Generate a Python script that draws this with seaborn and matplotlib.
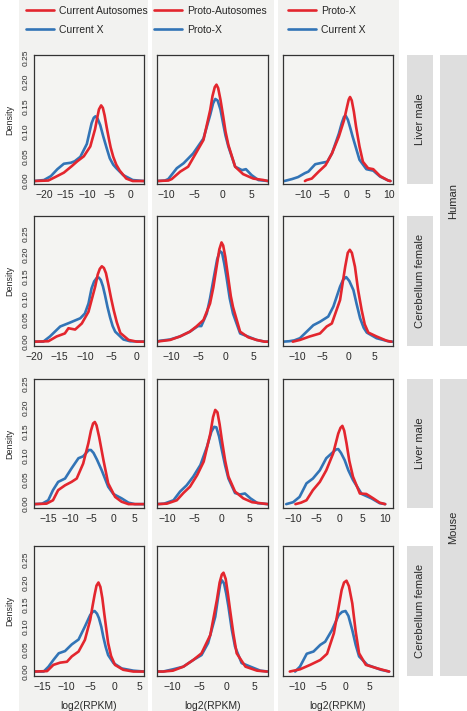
import numpy as np
import pandas as pd
import matplotlib
matplotlib.use('Agg')
import matplotlib.pyplot as plt
import seaborn as sns
from matplotlib.patches import Rectangle
from matplotlib.ticker import MultipleLocator

# legend names per column: red series first, blue series second
col_series = [['Current Autosomes', 'Current X'],
              ['Proto-Autosomes', 'Proto-X'],
              ['Proto-X', 'Current X']]
row_labels = ['Liver male', 'Cerebellum female', 'Liver male', 'Cerebellum female']
species = ['Human', 'Mouse']

# density curves as (log2(RPKM), density)
# human liver male
hl1_red = [(-22.3, 0), (-19.0, 0.001), (-17.4, 0.008), (-15.4, 0.017), (-13.6, 0.030), (-12.3, 0.040),
           (-10.8, 0.050), (-9.3, 0.070), (-8.2, 0.105), (-7.7, 0.128), (-7.3, 0.145), (-6.8, 0.153),
           (-6.4, 0.148), (-6.0, 0.133), (-5.5, 0.108), (-5.0, 0.085), (-4.6, 0.068), (-4.0, 0.049),
           (-3.3, 0.033), (-2.5, 0.021), (-1.0, 0.005), (0.5, 0.0), (3.1, 0.0)]
hl1_blue = [(-22.3, 0), (-20.0, 0.002), (-18.4, 0.010), (-16.9, 0.024), (-15.4, 0.035), (-13.8, 0.037),
            (-12.9, 0.040), (-11.6, 0.049), (-10.1, 0.075), (-9.5, 0.098), (-9.0, 0.117), (-8.5, 0.128),
            (-8.1, 0.131), (-7.6, 0.126), (-7.0, 0.113), (-6.3, 0.090), (-5.5, 0.066), (-4.8, 0.046),
            (-4.0, 0.033), (-3.3, 0.026), (-1.7, 0.012), (0.5, 0.002), (3.1, 0.0)]
hl2_red = [(-11.6, 0), (-9.6, 0.001), (-9.0, 0.004), (-7.5, 0.019), (-6.1, 0.029), (-4.6, 0.059), (-3.4, 0.083),
           (-2.2, 0.144), (-1.8, 0.172), (-1.4, 0.190), (-1.1, 0.195), (-0.8, 0.188), (-0.4, 0.165),
           (0.1, 0.130), (0.5, 0.100), (1.0, 0.073), (2.2, 0.029), (3.6, 0.014), (5.4, 0.005), (7.2, 0.002),
           (8.0, 0.0)]
hl2_blue = [(-11.6, 0), (-10.2, 0.001), (-9.6, 0.004), (-8.1, 0.026), (-6.9, 0.036), (-5.2, 0.056), (-3.4, 0.086),
            (-2.2, 0.134), (-1.7, 0.157), (-1.3, 0.166), (-0.9, 0.163), (-0.4, 0.145), (0.1, 0.115),
            (0.5, 0.092), (1.0, 0.070), (2.2, 0.029), (3.4, 0.022), (4.1, 0.024), (5.1, 0.012), (6.3, 0.002),
            (8.0, 0.0)]
hl3_red = [(-9.6, 0), (-9.2, 0.002), (-8.0, 0.005), (-6.4, 0.019), (-4.8, 0.032), (-3.3, 0.056), (-1.7, 0.090),
           (-0.5, 0.123), (0.2, 0.150), (0.6, 0.165), (0.9, 0.170), (1.3, 0.163), (1.8, 0.140), (2.3, 0.110),
           (3.1, 0.070), (3.9, 0.039), (5.1, 0.026), (6.3, 0.024), (7.9, 0.010), (9.8, 0.001), (10.3, 0.0)]
hl3_blue = [(-14.4, 0), (-12.6, 0.004), (-11.2, 0.008), (-9.6, 0.016), (-8.8, 0.019), (-7.2, 0.034), (-5.6, 0.037),
            (-4.4, 0.039), (-3.3, 0.056), (-1.7, 0.096), (-1.0, 0.118), (-0.5, 0.130), (-0.1, 0.132),
            (0.4, 0.124), (1.0, 0.106), (1.5, 0.090), (3.1, 0.043), (4.7, 0.024), (6.3, 0.021), (7.9, 0.009),
            (9.8, 0.001), (10.3, 0.0)]
# human cerebellum female
hc1_red = [(-20.0, 0), (-17.2, 0.001), (-15.6, 0.012), (-14.0, 0.019), (-13.3, 0.031), (-12.0, 0.028),
           (-10.7, 0.042), (-9.4, 0.069), (-8.1, 0.127), (-7.6, 0.155), (-7.2, 0.168), (-6.8, 0.174),
           (-6.4, 0.170), (-6.0, 0.158), (-5.5, 0.130), (-5.0, 0.100), (-4.5, 0.073), (-3.9, 0.045),
           (-3.2, 0.020), (-1.6, 0.004), (0.0, 0.0), (1.4, 0.0)]
hc1_blue = [(-20.0, 0), (-18.2, 0.0), (-16.9, 0.012), (-14.9, 0.035), (-13.0, 0.044), (-11.0, 0.054),
            (-10.1, 0.065), (-9.4, 0.088), (-8.8, 0.123), (-8.3, 0.139), (-7.8, 0.147), (-7.4, 0.148),
            (-7.0, 0.142), (-6.6, 0.128), (-6.2, 0.108), (-5.7, 0.080), (-5.2, 0.056), (-4.7, 0.036),
            (-4.2, 0.023), (-2.6, 0.005), (-1.3, 0.001), (1.4, 0.0)]
hc2_red = [(-12.6, 0), (-12.1, 0.001), (-10.2, 0.004), (-8.4, 0.012), (-6.6, 0.023), (-5.4, 0.035), (-4.1, 0.050),
           (-2.9, 0.088), (-2.3, 0.125), (-1.7, 0.173), (-1.2, 0.213), (-0.8, 0.229), (-0.5, 0.222),
           (-0.1, 0.195), (0.4, 0.150), (0.9, 0.105), (1.3, 0.080), (2.6, 0.023), (4.1, 0.010), (5.6, 0.004),
           (7.1, 0.0), (7.7, 0.0)]
hc2_blue = [(-12.6, 0), (-12.1, 0.002), (-10.2, 0.005), (-8.4, 0.012), (-6.6, 0.023), (-5.1, 0.036), (-4.5, 0.036),
            (-3.5, 0.065), (-2.9, 0.100), (-2.3, 0.142), (-1.6, 0.190), (-1.1, 0.209), (-0.7, 0.205),
            (-0.3, 0.180), (0.1, 0.150), (0.7, 0.100), (1.3, 0.065), (2.6, 0.019), (3.8, 0.013), (5.6, 0.004),
            (7.1, 0.0), (7.7, 0.0)]
hc3_red = [(-10.8, 0), (-9.4, 0.004), (-7.5, 0.012), (-5.5, 0.019), (-4.2, 0.035), (-3.2, 0.042), (-1.6, 0.096),
           (-1.1, 0.135), (-0.6, 0.173), (-0.1, 0.205), (0.3, 0.212), (0.7, 0.205), (1.3, 0.173), (1.9, 0.120),
           (2.6, 0.073), (3.2, 0.040), (3.9, 0.021), (5.5, 0.012), (7.5, 0.002), (8.4, 0.0)]
hc3_blue = [(-12.7, 0), (-11.5, 0.001), (-10.5, 0.003), (-9.4, 0.008), (-8.1, 0.023), (-6.8, 0.038), (-5.5, 0.046),
            (-3.9, 0.058), (-2.9, 0.081), (-1.6, 0.127), (-1.0, 0.143), (-0.4, 0.149), (0.2, 0.140),
            (1.0, 0.119), (1.6, 0.088), (2.3, 0.054), (3.0, 0.032), (3.6, 0.021), (5.5, 0.008), (8.1, 0.0),
            (8.7, 0.0)]
# mouse liver male
ml1_red = [(-18.4, 0), (-15.5, 0.001), (-14.0, 0.008), (-12.8, 0.029), (-11.2, 0.039), (-9.7, 0.046),
           (-8.5, 0.053), (-7.0, 0.084), (-5.8, 0.126), (-5.2, 0.152), (-4.7, 0.167), (-4.3, 0.170),
           (-3.9, 0.163), (-3.3, 0.139), (-2.8, 0.115), (-2.3, 0.091), (-1.2, 0.043), (0.4, 0.015),
           (1.9, 0.005), (3.5, 0.0), (7.1, 0.0)]
ml1_blue = [(-18.4, 0), (-16.5, 0.001), (-15.1, 0.008), (-14.0, 0.029), (-12.8, 0.046), (-11.2, 0.053),
            (-9.7, 0.074), (-8.1, 0.095), (-7.0, 0.099), (-6.3, 0.106), (-5.7, 0.112), (-5.2, 0.112),
            (-4.6, 0.106), (-3.8, 0.092), (-2.7, 0.070), (-1.2, 0.036), (0.0, 0.021), (1.9, 0.012),
            (3.5, 0.003), (5.0, 0.0), (7.1, 0.0)]
ml2_red = [(-11.8, 0), (-10.0, 0.001), (-8.2, 0.008), (-7.0, 0.023), (-5.8, 0.036), (-4.5, 0.060), (-3.3, 0.088),
           (-2.1, 0.146), (-1.6, 0.180), (-1.2, 0.195), (-0.8, 0.190), (-0.4, 0.165), (0.0, 0.133),
           (0.6, 0.090), (1.2, 0.057), (2.4, 0.026), (3.9, 0.012), (5.5, 0.004), (8.4, 0.0)]
ml2_blue = [(-11.8, 0), (-10.5, 0.001), (-8.8, 0.008), (-7.6, 0.026), (-6.4, 0.039), (-5.2, 0.057), (-3.9, 0.081),
            (-2.7, 0.119), (-1.9, 0.150), (-1.4, 0.160), (-1.0, 0.159), (-0.5, 0.140), (0.0, 0.112),
            (0.6, 0.080), (1.2, 0.053), (2.4, 0.023), (3.3, 0.020), (4.2, 0.022), (5.2, 0.012), (6.5, 0.002),
            (8.4, 0.0)]
ml3_red = [(-9.5, 0), (-8.3, 0.003), (-7.1, 0.008), (-5.7, 0.029), (-4.2, 0.046), (-2.8, 0.070), (-1.3, 0.105),
           (-0.2, 0.146), (0.3, 0.158), (0.7, 0.162), (1.1, 0.152), (1.6, 0.126), (2.2, 0.090), (3.0, 0.057),
           (4.5, 0.022), (5.9, 0.021), (7.4, 0.012), (8.8, 0.003), (10.0, 0.0)]
ml3_blue = [(-11.5, 0), (-10.0, 0.004), (-8.6, 0.015), (-7.1, 0.043), (-5.7, 0.053), (-4.2, 0.070), (-2.8, 0.095),
            (-1.3, 0.108), (-0.7, 0.113), (-0.2, 0.114), (0.4, 0.106), (1.2, 0.091), (2.0, 0.070), (3.0, 0.050),
            (4.9, 0.021), (7.0, 0.012), (8.8, 0.002), (10.0, 0.0)]
# mouse cerebellum female
mc1_red = [(-16.7, 0), (-14.0, 0.001), (-12.7, 0.015), (-11.3, 0.020), (-9.9, 0.022), (-8.9, 0.034),
           (-7.5, 0.045), (-6.2, 0.071), (-5.1, 0.116), (-4.6, 0.148), (-4.2, 0.172), (-3.8, 0.193),
           (-3.4, 0.200), (-3.0, 0.190), (-2.6, 0.165), (-2.2, 0.130), (-1.8, 0.097), (-1.4, 0.064),
           (-0.8, 0.035), (0.0, 0.015), (1.7, 0.004), (3.8, 0.0), (6.0, 0.0)]
mc1_blue = [(-16.7, 0), (-14.7, 0.0), (-13.7, 0.011), (-12.7, 0.026), (-11.6, 0.041), (-10.3, 0.046),
            (-8.9, 0.061), (-7.5, 0.072), (-6.2, 0.101), (-5.1, 0.127), (-4.6, 0.134), (-4.2, 0.136),
            (-3.7, 0.130), (-3.3, 0.120), (-2.8, 0.100), (-2.4, 0.078), (-1.9, 0.055), (-1.4, 0.037),
            (-0.3, 0.019), (1.4, 0.007), (3.8, 0.002), (6.0, 0.0)]
mc2_red = [(-12.7, 0), (-11.6, 0.0), (-9.8, 0.002), (-7.9, 0.011), (-6.1, 0.026), (-4.6, 0.041), (-3.0, 0.082),
           (-1.8, 0.161), (-1.3, 0.200), (-0.9, 0.218), (-0.6, 0.222), (-0.2, 0.208), (0.2, 0.175),
           (0.6, 0.138), (1.2, 0.085), (1.8, 0.041), (3.4, 0.011), (5.5, 0.002), (7.3, 0.0)]
mc2_blue = [(-12.7, 0), (-11.6, 0.0), (-9.8, 0.005), (-7.9, 0.011), (-6.1, 0.026), (-4.6, 0.037), (-3.4, 0.064),
            (-2.1, 0.123), (-1.6, 0.165), (-1.2, 0.196), (-0.9, 0.205), (-0.5, 0.198), (-0.1, 0.175),
            (0.3, 0.146), (0.9, 0.095), (1.5, 0.056), (2.7, 0.019), (4.3, 0.011), (6.1, 0.002), (7.5, 0.0)]
mc3_red = [(-11.5, 0), (-9.4, 0.005), (-7.3, 0.015), (-5.2, 0.026), (-3.8, 0.040), (-2.4, 0.086), (-1.4, 0.146),
           (-0.8, 0.183), (-0.3, 0.200), (0.2, 0.204), (0.7, 0.192), (1.4, 0.153), (2.1, 0.090), (2.8, 0.041),
           (4.2, 0.015), (6.6, 0.007), (9.0, 0.0)]
mc3_blue = [(-10.4, 0), (-9.4, 0.011), (-8.0, 0.040), (-6.6, 0.045), (-5.2, 0.060), (-4.2, 0.067), (-2.8, 0.093),
            (-1.4, 0.127), (-0.7, 0.134), (0.0, 0.136), (0.6, 0.125), (1.4, 0.093), (2.1, 0.060), (2.8, 0.034),
            (4.5, 0.015), (7.3, 0.004), (9.0, 0.0)]

panels = [[(hl1_red, hl1_blue), (hl2_red, hl2_blue), (hl3_red, hl3_blue)],
          [(hc1_red, hc1_blue), (hc2_red, hc2_blue), (hc3_red, hc3_blue)],
          [(ml1_red, ml1_blue), (ml2_red, ml2_blue), (ml3_red, ml3_blue)],
          [(mc1_red, mc1_blue), (mc2_red, mc2_blue), (mc3_red, mc3_blue)]]

# axis ranges
xlims = [[(-22.3, 3.1), (-11.6, 8.0), (-14.7, 10.9)],
         [(-20.0, 1.4), (-12.6, 7.7), (-12.7, 8.7)],
         [(-18.4, 7.1), (-11.8, 8.4), (-12.2, 11.7)],
         [(-16.7, 6.0), (-12.7, 7.5), (-12.9, 9.8)]]
ylims = [(-0.006, 0.255), (-0.01, 0.29), (-0.008, 0.259), (-0.01, 0.282)]
yticks = [0.0, 0.05, 0.10, 0.15, 0.20, 0.25]

RED = '#e3262e'
BLUE = '#3274b6'
BG = '#f2f2f0'
STRIP = '#dedede'
INK = '#2a2a2a'

sns.set_style('white')
plt.rcParams['font.family'] = ['Liberation Sans', 'DejaVu Sans']
plt.rcParams['lines.solid_joinstyle'] = 'round'
plt.rcParams['lines.solid_capstyle'] = 'round'

W, H = 467, 711
fig = plt.figure(figsize=(W / 100, H / 100), dpi=100)
fig.patch.set_facecolor('white')


def fbox(l, t, r, b):
    return [l / W, 1 - b / H, (r - l) / W, (b - t) / H]


col_bg = [(19, 148), (152, 274), (278, 399)]
col_x = [(34, 144), (157, 268), (283, 393)]
row_y = [(55, 184), (216, 346), (379, 508), (546, 676)]
legend_x = [26, 154, 288]

for l, r in col_bg:
    fig.add_artist(Rectangle((l / W, 0), (r - l) / W, 1, transform=fig.transFigure,
                             facecolor=BG, edgecolor='none', zorder=0))

for ri, (t, b) in enumerate(row_y):
    for ci, (l, r) in enumerate(col_x):
        ax = fig.add_axes(fbox(l, t, r, b))
        ax.set_facecolor('#f4f4f2')
        red, blue = panels[ri][ci]
        red_df = pd.DataFrame(red, columns=['x', 'y'])
        blue_df = pd.DataFrame(blue, columns=['x', 'y'])
        sns.lineplot(data=blue_df, x='x', y='y', color=BLUE, lw=1.9, sort=False,
                     estimator=None, ax=ax, label=col_series[ci][1])
        sns.lineplot(data=red_df, x='x', y='y', color=RED, lw=1.9, sort=False,
                     estimator=None, ax=ax, label=col_series[ci][0])
        ax.set_xlim(*xlims[ri][ci])
        ax.set_ylim(*ylims[ri])
        ax.xaxis.set_major_locator(MultipleLocator(5))
        for sp in ax.spines.values():
            sp.set_color('#333333')
            sp.set_linewidth(0.9)
        ax.tick_params(axis='x', direction='out', length=3, width=0.8, color='#333333',
                       labelsize=7.5, labelcolor=INK, pad=1.5)
        ax.set_xlabel('')
        ax.set_ylabel('')
        if ci == 0:
            ax.set_yticks(yticks)
            ax.set_yticklabels([f'{v:.2f}' for v in yticks], rotation=90, va='center',
                               fontsize=6)
            ax.tick_params(axis='y', direction='out', length=2.5, width=0.8, color='#333333',
                           labelcolor=INK, pad=1)
            ax.set_ylabel('Density', fontsize=6.5, color=INK, labelpad=6)
        else:
            ax.set_yticks([])
        if ri == 3:
            ax.set_xlabel('log2(RPKM)', fontsize=7.5, color=INK, labelpad=6)
        handles, labels = ax.get_legend_handles_labels()
        if ri == 0:
            ax.legend(handles[::-1], labels[::-1], loc='upper left',
                      bbox_to_anchor=(legend_x[ci] / W, 1 - 6 / H), bbox_transform=fig.transFigure,
                      frameon=False, borderpad=0, borderaxespad=0, handlelength=2.7,
                      handletextpad=0.5, labelspacing=0.85, fontsize=7.5)
        else:
            ax.get_legend().remove()

# row strips
for ri, (t, b) in enumerate(row_y):
    fig.add_artist(Rectangle((407 / W, 1 - b / H), 26 / W, (b - t) / H, transform=fig.transFigure,
                             facecolor=STRIP, edgecolor='none'))
    fig.text(420 / W, 1 - (t + b) / 2 / H, row_labels[ri], rotation=90, ha='center', va='center',
             fontsize=8, color=INK)

# species strips
for si, (t, b) in enumerate([(55, 346), (379, 676)]):
    fig.add_artist(Rectangle((440 / W, 1 - b / H), 27 / W, (b - t) / H, transform=fig.transFigure,
                             facecolor=STRIP, edgecolor='none'))
    fig.text(453.5 / W, 1 - (t + b) / 2 / H, species[si], rotation=90, ha='center', va='center',
             fontsize=8, color=INK)

fig.savefig('out.png', dpi=100)
